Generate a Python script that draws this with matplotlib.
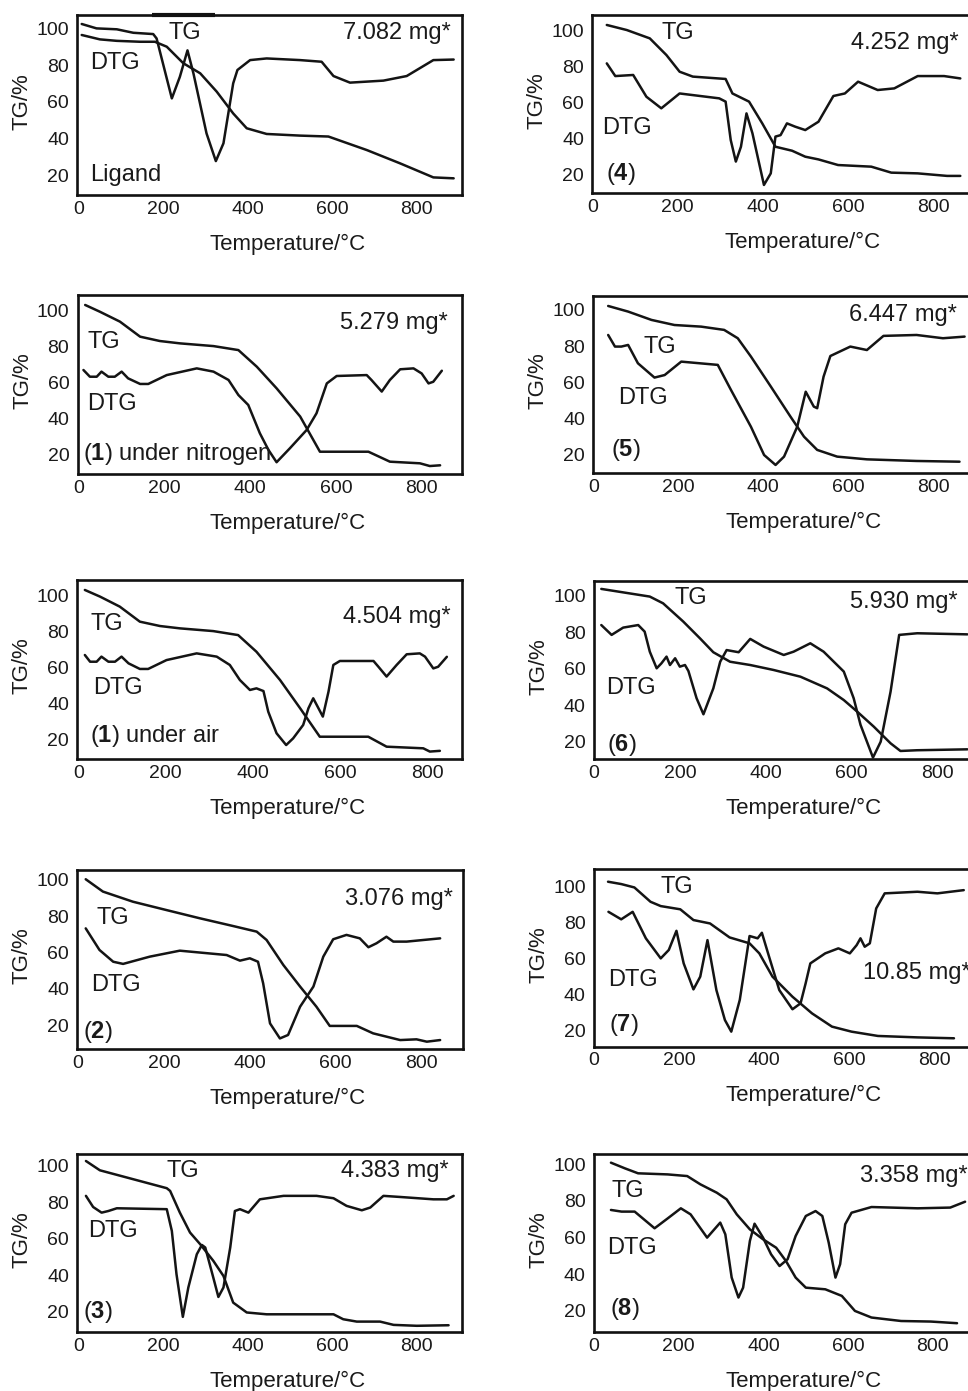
import matplotlib
matplotlib.use('Agg')
import matplotlib.pyplot as plt

plt.rcParams['font.family'] = ['Liberation Sans', 'DejaVu Sans']
plt.rcParams['mathtext.fontset'] = 'custom'
plt.rcParams['mathtext.rm'] = 'Liberation Sans'
plt.rcParams['mathtext.bf'] = 'Liberation Sans:bold'

# ---------------- data ----------------
x_ticks = [0, 200, 400, 600, 800]
y_ticks = [20, 40, 60, 80, 100]

# Ligand
lig_a_x = [8, 51, 91, 146, 181, 209, 248, 288, 327, 366, 398, 445, 524, 591, 682, 760, 839, 887]
lig_a_y = [96.4, 94, 93.2, 92.7, 92.7, 90, 81, 75.5, 65.5, 53.6, 45.5, 42.4, 41.5, 41, 33.6, 26.4, 18.7, 18.2]
lig_b_x = [8, 43, 91, 130, 177, 185, 221, 240, 258, 272, 303, 325, 343, 366, 376, 406, 445, 524, 575, 603, 642, 721, 776, 839, 887]
lig_b_y = [102.4, 100, 99.5, 97.6, 96.9, 94.5, 61.8, 73.6, 88, 75.5, 42.7, 27.6, 37.3, 70, 77.3, 82.7, 83.6, 82.7, 81.8, 74, 70.4, 71.5, 74, 82.7, 83]

# Complex (4)
c4_tg_x = [34, 81, 135, 174, 205, 236, 313, 329, 368, 399, 430, 469, 500, 531, 577, 655, 702, 764, 833, 864]
c4_tg_y = [102.8, 100, 95.4, 86.2, 77, 74.3, 73, 65, 60.5, 48.5, 35.6, 33.4, 30.1, 28.6, 25.5, 24.6, 21.3, 20.9, 19.5, 19.5]
c4_dtg_x = [34, 54, 96, 127, 162, 205, 298, 313, 325, 337, 349, 362, 376, 403, 419, 430, 442, 457, 476, 500, 531, 566, 593, 624, 670, 709, 764, 826, 864]
c4_dtg_y = [81.6, 74.6, 75.2, 63.2, 56.8, 65, 62.3, 60.5, 39.3, 27.4, 35.6, 54, 43, 14.5, 20.9, 41.2, 42, 48.5, 46.7, 44.8, 49.4, 63.6, 65, 71.5, 66.9, 67.8, 74.6, 74.6, 73.3]

# Complex (1) under nitrogen
c1n_tg_x = [16, 50, 97, 144, 190, 237, 315, 373, 416, 462, 517, 563, 676, 726, 796, 819, 843]
c1n_tg_y = [102.8, 99.1, 93.6, 85.3, 82.9, 81.6, 80.1, 77.9, 68.7, 56.8, 41.2, 21.8, 21.8, 16.3, 15.4, 13.9, 14.3]
c1n_dtg_x = [12, 27, 43, 54, 70, 85, 101, 116, 144, 163, 206, 276, 315, 350, 373, 396, 423, 443, 462, 493, 532, 555, 579, 602, 672, 683, 707, 726, 750, 781, 800, 816, 827, 847]
c1n_dtg_y = [66.9, 63.2, 63.2, 66, 63.2, 63.2, 66, 62.3, 59.2, 59.2, 64.1, 67.8, 66, 61.4, 53.1, 47.6, 32, 22.8, 16, 23.7, 33.8, 43, 59.5, 63.6, 64.1, 61.4, 55, 61.4, 67.3, 67.8, 65, 59.5, 60.4, 66.5]

# Complex (5)
c5_tg_x = [35, 82, 137, 191, 254, 308, 340, 371, 418, 464, 496, 527, 574, 644, 761, 862]
c5_tg_y = [102.2, 99.1, 94.5, 91.7, 90.8, 89, 84.4, 74.3, 57.7, 41.2, 30.1, 22.8, 19.1, 17.6, 16.7, 16.3]
c5_dtg_x = [35, 51, 66, 82, 105, 144, 168, 207, 293, 324, 371, 402, 429, 449, 480, 500, 519, 527, 542, 558, 605, 644, 683, 761, 823, 874]
c5_dtg_y = [86.2, 79.8, 79.8, 80.7, 70.6, 62.7, 64.1, 71.5, 69.7, 55.9, 35.6, 20, 14.5, 19.1, 35.6, 54.9, 46.7, 45.8, 63.2, 74.6, 79.8, 77.9, 85.7, 86.2, 84.4, 85.3]

# Complex (1) under air
c1a_tg_x = [15, 50, 95, 141, 187, 233, 309, 366, 408, 462, 508, 553, 664, 706, 790, 805, 828]
c1a_tg_y = [102.8, 99.1, 93.6, 85.3, 82.9, 81.6, 80.1, 77.9, 68.7, 53.1, 37.5, 21.8, 21.8, 16.3, 15.4, 13.6, 14]
c1a_dtg_x = [15, 27, 42, 53, 69, 84, 99, 115, 141, 160, 202, 271, 317, 347, 370, 393, 408, 424, 435, 454, 476, 492, 515, 527, 538, 550, 560, 573, 584, 599, 676, 687, 706, 729, 752, 782, 794, 813, 824, 844]
c1a_dtg_y = [66.9, 63.2, 63.2, 66, 63.2, 63.2, 66, 62.3, 59.2, 59.2, 64.1, 67.8, 66, 61.4, 53.1, 47.6, 48.5, 47, 35.6, 23.7, 17.2, 20.9, 28.3, 37.5, 43, 37.5, 32.9, 46.7, 61.4, 63.6, 63.6, 60.5, 55, 61.4, 67.3, 67.8, 66, 59.5, 60.4, 65.9]

# Complex (6)
c6_tg_x = [17, 68, 130, 161, 208, 247, 278, 317, 364, 418, 481, 543, 582, 613, 652, 691, 714, 753, 870]
c6_tg_y = [103.7, 101.8, 99.5, 95.8, 85.8, 76.6, 69, 63.8, 62, 59.3, 55.6, 49.2, 42.8, 36.5, 28.2, 19.1, 14.9, 15.3, 15.8]
c6_dtg_x = [17, 41, 68, 103, 118, 130, 146, 157, 169, 177, 189, 200, 212, 220, 239, 255, 278, 294, 309, 337, 364, 395, 442, 465, 504, 535, 582, 605, 621, 650, 668, 691, 711, 753, 870]
c6_dtg_y = [83.9, 78.5, 82.5, 83.9, 80.3, 69.3, 60.2, 62.9, 66.6, 62, 65.7, 61.1, 62, 58.7, 43.8, 35, 49.2, 63.8, 70.2, 69, 76.3, 72.1, 67.5, 69.3, 73.9, 69.3, 58.4, 43.8, 29.2, 11.3, 20, 47.4, 78.5, 79.4, 78.8]

# Complex (2)
c2_tg_x = [18, 58, 128, 206, 283, 361, 416, 439, 478, 517, 555, 586, 649, 687, 750, 788, 812, 843]
c2_tg_y = [100.4, 93.6, 88, 83.4, 78.9, 74.6, 71.5, 66.9, 53.1, 41.2, 30.1, 19.5, 19.5, 15.4, 11.7, 12.1, 10.8, 11.7]
c2_dtg_x = [18, 50, 82, 105, 167, 237, 346, 377, 400, 419, 431, 447, 470, 489, 517, 548, 571, 594, 625, 656, 676, 695, 718, 734, 765, 843]
c2_dtg_y = [73.3, 61.4, 54.9, 53.7, 57.7, 61, 58.6, 55.5, 56.8, 54.9, 43, 20.9, 12.6, 14.5, 30.1, 41.2, 57.7, 67.3, 69.7, 67.8, 62.9, 65.1, 68.7, 66, 66, 67.8]

# Complex (7)
c7_tg_x = [33, 64, 95, 133, 157, 203, 234, 273, 319, 366, 389, 420, 467, 513, 560, 606, 668, 761, 847]
c7_tg_y = [102.8, 101.5, 99.6, 91.6, 89.2, 87.4, 81.4, 79.5, 71.7, 68.4, 62.8, 49.8, 38.6, 29.3, 21.9, 19.1, 16.7, 15.9, 15.4]
c7_dtg_x = [34, 64, 91, 122, 157, 176, 194, 211, 234, 250, 267, 288, 308, 323, 343, 366, 385, 395, 412, 436, 467, 486, 498, 509, 544, 575, 602, 618, 627, 637, 649, 664, 684, 761, 808, 870]
c7_dtg_y = [86, 81.8, 86, 71.2, 60, 64.7, 75.4, 57.2, 42.7, 49.8, 70.2, 42.3, 25.6, 19.1, 36.8, 72.5, 71.2, 74.3, 60.9, 42.3, 31.6, 34.9, 46.1, 57.2, 62.8, 65.6, 62.8, 67.4, 71.2, 66.5, 68.4, 87.9, 96.3, 97.2, 96.3, 98.1]

# Complex (3)
c3_tg_x = [18, 51, 130, 209, 217, 240, 264, 288, 319, 343, 366, 398, 445, 603, 626, 658, 713, 745, 800, 875]
c3_tg_y = [102.7, 97.6, 92.7, 87.8, 86.3, 74.4, 63.5, 57.1, 48, 39.7, 25.1, 19.7, 18.7, 18.7, 16, 14.7, 14.7, 12.9, 12.4, 12.7]
c3_dtg_x = [18, 35, 55, 71, 91, 209, 221, 232, 247, 260, 280, 292, 300, 319, 331, 343, 359, 370, 382, 402, 429, 485, 563, 603, 634, 670, 690, 721, 760, 839, 871, 887]
c3_dtg_y = [83.6, 77.5, 74.4, 75.3, 76.8, 76.3, 64.4, 40.7, 17.3, 33.4, 51.6, 56.7, 55.3, 38.8, 28.2, 33.4, 55.3, 75.3, 76.3, 74.4, 81.7, 83.6, 83.6, 82.3, 78.1, 75.7, 77.2, 83.6, 83, 81.7, 81.7, 83.6]

# Complex (8)
c8_tg_x = [40, 73, 104, 174, 220, 251, 290, 313, 337, 368, 399, 430, 453, 476, 500, 546, 585, 616, 655, 725, 795, 857]
c8_tg_y = [100.9, 97.8, 95.1, 94.5, 93.6, 89.1, 84.5, 80.9, 72.7, 64.5, 59.1, 54.5, 47.3, 38.2, 32.7, 31.8, 28.2, 20, 16.4, 14.5, 14.2, 13.3]
c8_dtg_x = [40, 65, 96, 143, 174, 205, 228, 267, 298, 310, 325, 341, 352, 368, 379, 399, 418, 438, 457, 476, 500, 523, 539, 554, 570, 581, 593, 608, 655, 764, 841, 876]
c8_dtg_y = [75.1, 74.2, 74.2, 65.1, 70.5, 76, 72.7, 60, 68.2, 61.8, 38.2, 27.3, 32.7, 58.2, 67.6, 60, 50.9, 44.5, 48.2, 60.9, 71.8, 74.5, 71.8, 57.3, 38.2, 45.5, 67.3, 73.6, 76.7, 76, 76.4, 79.6]

# ---------------- layout ----------------
W, H = 968, 1391
fig = plt.figure(figsize=(W / 100, H / 100), dpi=100)
LC = '#141414'

# box in pixels: (left, right, top, bottom); limits in data units
panels = [
    dict(box=(77.3, 461.7, 15, 195), xlim=(-2.4, 906), ylim=(9.1, 107.3),
         curves=[(lig_a_x, lig_a_y), (lig_b_x, lig_b_y)],
         texts=[(213, 97.6, 'TG'), (626, 97.6, '7.082 mg*'), (28, 80.9, 'DTG'), (28, 20, 'Ligand')]),
    dict(box=(592.3, 985, 15, 193.3), xlim=(0, 922), ylim=(9.9, 108.3),
         curves=[(c4_tg_x, c4_tg_y), (c4_dtg_x, c4_dtg_y)],
         texts=[(162, 98.5, 'TG'), (608, 92.6, '4.252 mg*'), (23, 45.7, 'DTG'),
                (33, 20.6, r'($\mathbf{4}$)')]),
    dict(box=(77.7, 462, 295, 474), xlim=(-1.4, 894), ylim=(9.5, 108.3),
         curves=[(c1n_tg_x, c1n_tg_y), (c1n_dtg_x, c1n_dtg_y)],
         texts=[(610, 92.6, '5.279 mg*'), (21, 82.5, 'TG'), (21, 48.1, 'DTG'),
                (12, 20.6, r'($\mathbf{1}$) under nitrogen')]),
    dict(box=(593.3, 985, 296, 473.3), xlim=(0, 922), ylim=(9.9, 107.7),
         curves=[(c5_tg_x, c5_tg_y), (c5_dtg_x, c5_dtg_y)],
         texts=[(601, 97.2, '6.447 mg*'), (117, 79.8, 'TG'), (58, 51.3, 'DTG'),
                (41, 22.8, r'($\mathbf{5}$)')]),
    dict(box=(77.3, 461.7, 580, 759), xlim=(-2.3, 878), ylim=(9.5, 108.3),
         curves=[(c1a_tg_x, c1a_tg_y), (c1a_dtg_x, c1a_dtg_y)],
         texts=[(607, 88, '4.504 mg*'), (28, 83.8, 'TG'), (33, 48.9, 'DTG'),
                (27, 22.4, r'($\mathbf{1}$) under air')]),
    dict(box=(594, 985, 580.7, 759), xlim=(0, 911), ylim=(10.5, 108.2),
         curves=[(c6_tg_x, c6_tg_y), (c6_dtg_x, c6_dtg_y)],
         texts=[(188, 98.5, 'TG'), (597, 96.7, '5.930 mg*'), (29, 49.2, 'DTG'),
                (30, 18.2, r'($\mathbf{6}$)')]),
    dict(box=(77.3, 462.7, 870, 1049.3), xlim=(-1.6, 895.5), ylim=(6.6, 105.5),
         curves=[(c2_tg_x, c2_tg_y), (c2_dtg_x, c2_dtg_y)],
         texts=[(621, 89.3, '3.076 mg*'), (43, 78.9, 'TG'), (31, 42, 'DTG'),
                (12, 16.3, r'($\mathbf{2}$)')]),
    dict(box=(594, 985, 869, 1046.7), xlim=(0, 920), ylim=(10.7, 109.9),
         curves=[(c7_tg_x, c7_tg_y), (c7_dtg_x, c7_dtg_y)],
         texts=[(157, 100, 'TG'), (633, 51.6, '10.85 mg*'), (33, 47.9, 'DTG'),
                (36, 22.8, r'($\mathbf{7}$)')]),
    dict(box=(77.3, 461.7, 1153.7, 1332), xlim=(-2.4, 906), ylim=(9.0, 106.7),
         curves=[(c3_tg_x, c3_tg_y), (c3_dtg_x, c3_dtg_y)],
         texts=[(209, 97.3, 'TG'), (620, 97.3, '4.383 mg*'), (24, 64.4, 'DTG'),
                (12, 20, r'($\mathbf{3}$)')]),
    dict(box=(594, 985, 1153.7, 1332), xlim=(0, 923), ylim=(8.5, 105.8),
         curves=[(c8_tg_x, c8_tg_y), (c8_dtg_x, c8_dtg_y)],
         texts=[(628, 93.6, '3.358 mg*'), (42, 85.5, 'TG'), (30, 54.5, 'DTG'),
                (38, 20.9, r'($\mathbf{8}$)')]),
]

for i, p in enumerate(panels):
    l, r, t, b = p['box']
    w, h = r - l, b - t
    ax = fig.add_axes([l / W, 1 - b / H, w / W, h / H])
    for cx, cy in p['curves']:
        ax.plot(cx, cy, color=LC, lw=1.8, solid_joinstyle='round', solid_capstyle='round')
    ax.set_xlim(*p['xlim'])
    ax.set_ylim(*p['ylim'])
    ax.set_xticks(x_ticks)
    ax.set_yticks(y_ticks)
    ax.tick_params(axis='both', length=0, labelsize=14, colors='#1a1a1a')
    ax.tick_params(axis='x', pad=4)
    ax.tick_params(axis='y', pad=6)
    for s in ax.spines.values():
        s.set_linewidth(1.9)
        s.set_color('#111111')
    for tx, ty, s in p['texts']:
        ax.text(tx, ty, s, fontsize=17, ha='left', va='center', color='#1a1a1a')
    ax.text(210 / w, -49 / h, 'Temperature/°C', transform=ax.transAxes,
            ha='center', va='center', fontsize=16, color='#1a1a1a')
    ax.text(-55 / w, 0.52, 'TG/%', transform=ax.transAxes, rotation=90,
            ha='center', va='center', fontsize=16, color='#1a1a1a')
    if i == 0:
        # thicker piece of the top frame seen in the original scan
        ax.plot([174, 323], [1, 1], transform=ax.get_xaxis_transform(),
                color='#111111', lw=3, clip_on=False, solid_capstyle='butt')

fig.savefig('out.png', dpi=100)
